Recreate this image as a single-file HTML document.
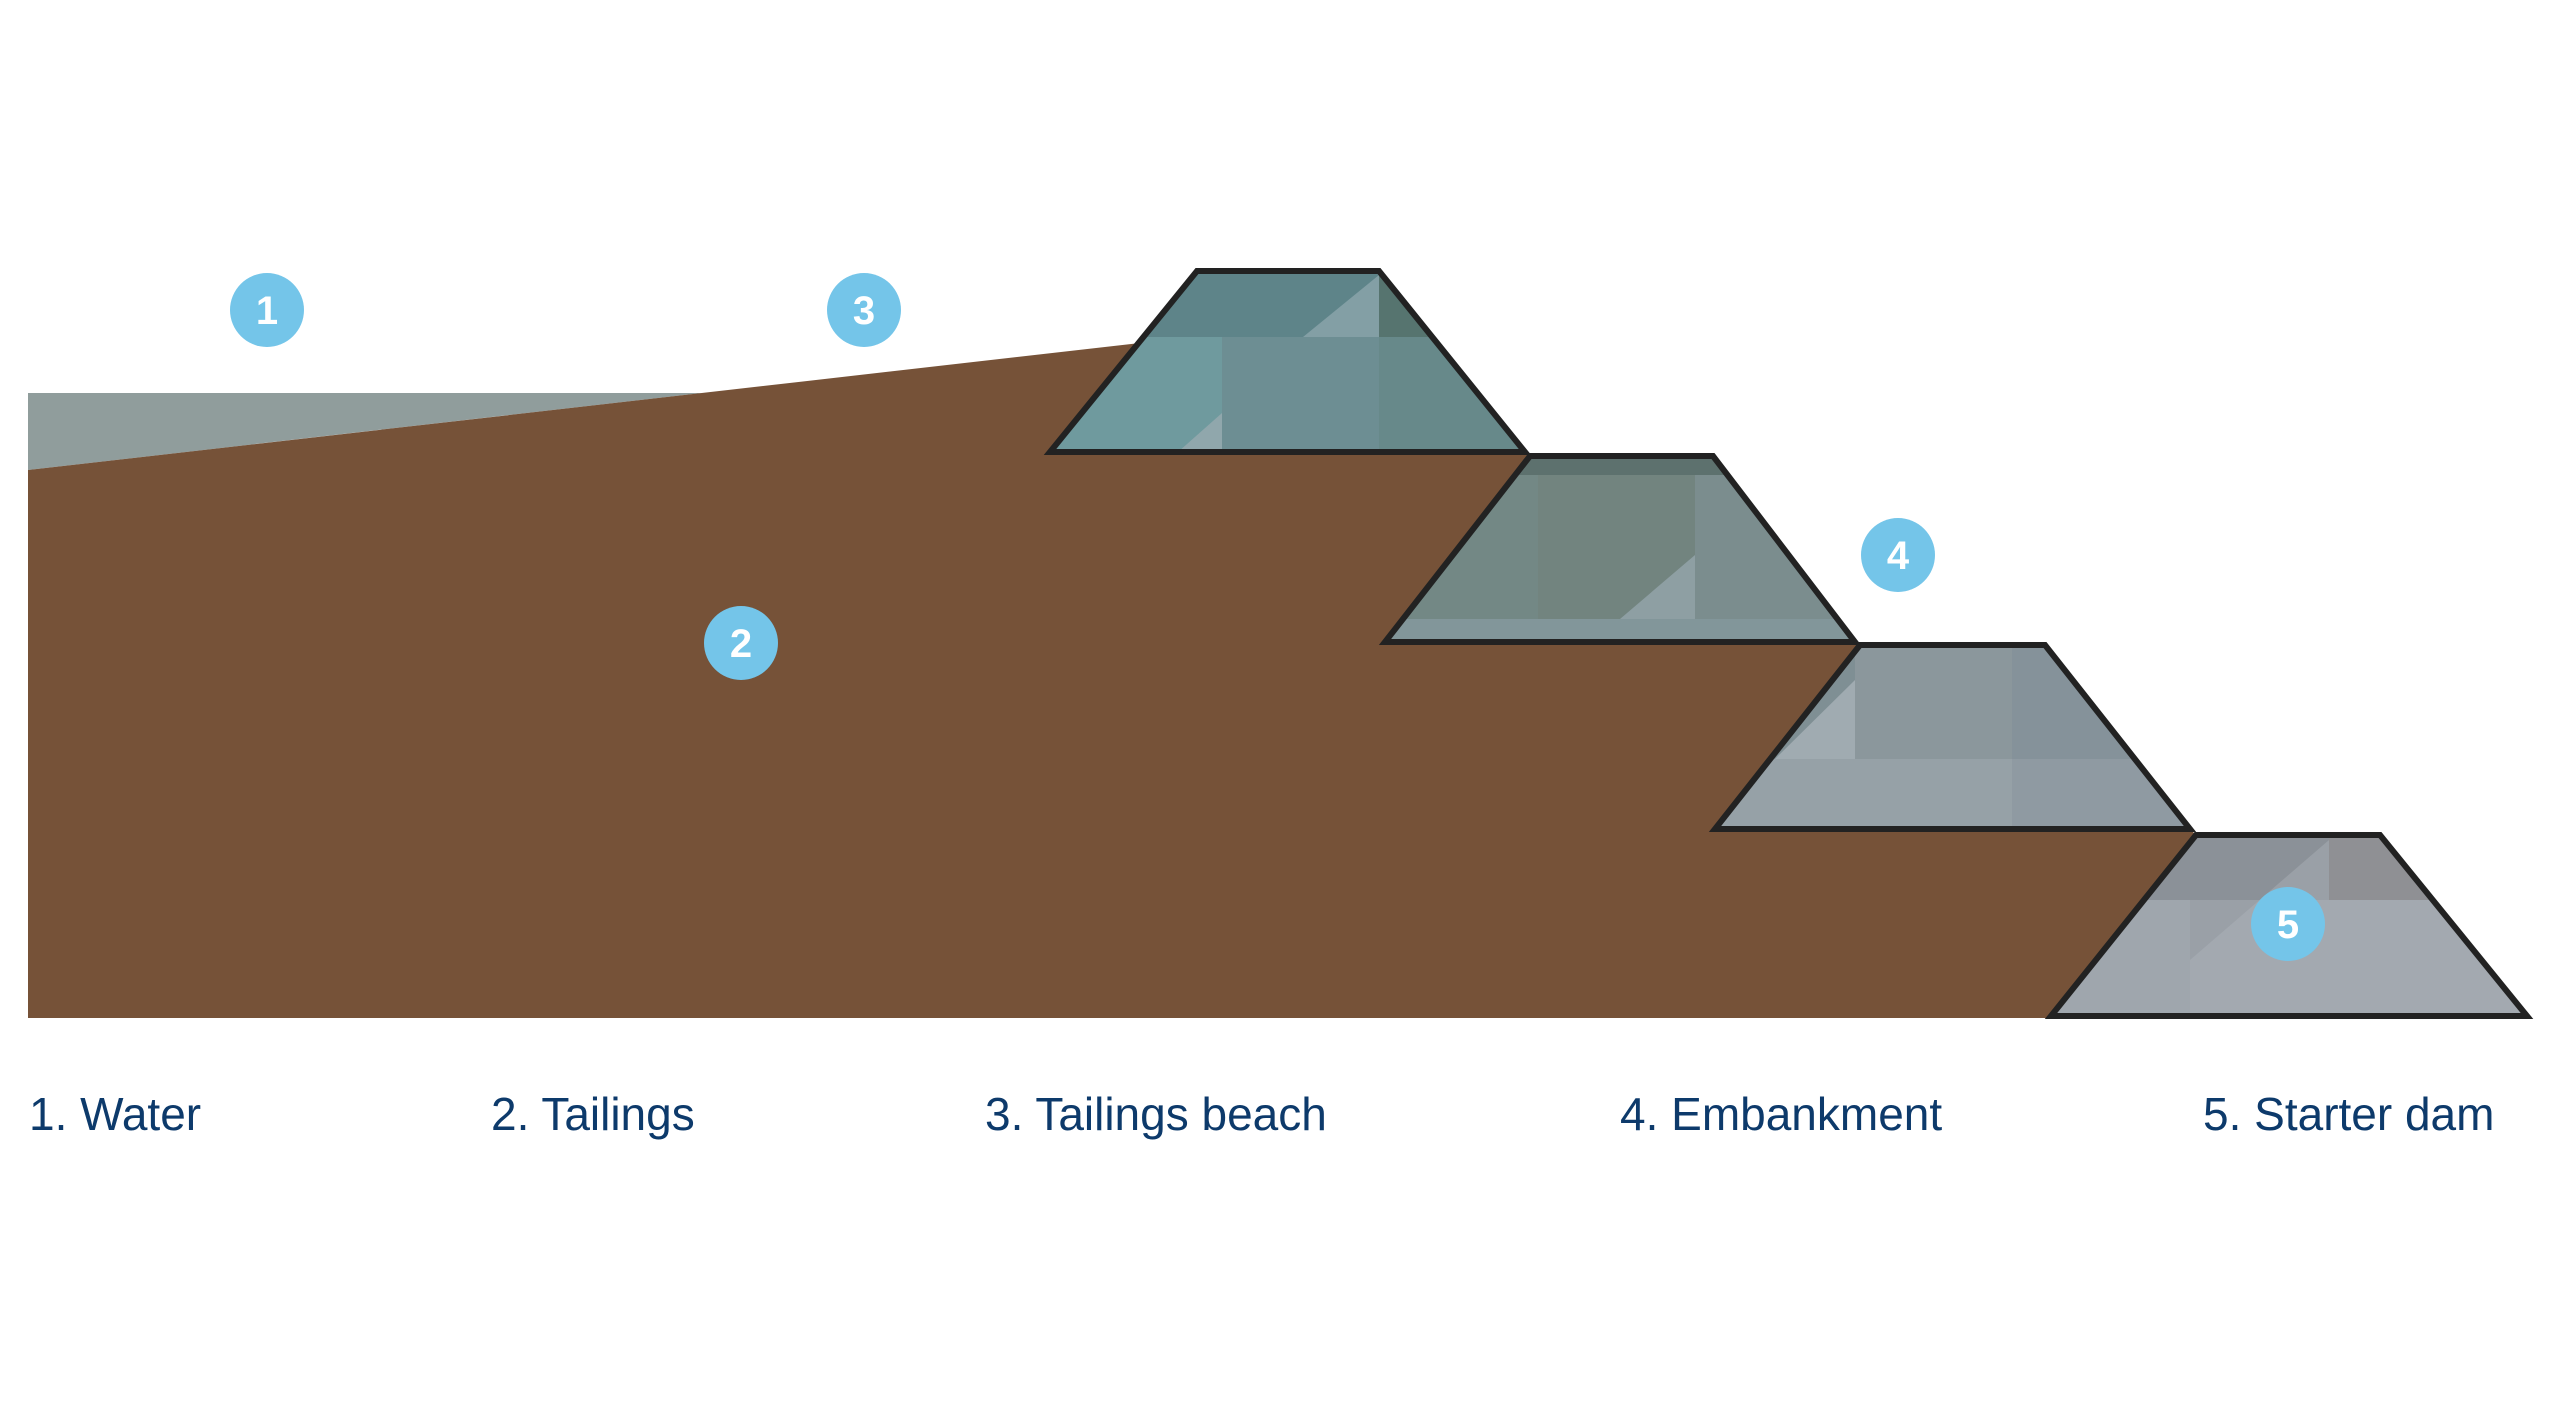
<!DOCTYPE html>
<html><head><meta charset="utf-8"><style>
html,body{margin:0;padding:0;background:#fff;}
svg{display:block;}
text{font-family:"Liberation Sans",Arial,sans-serif;}
</style></head><body>
<svg width="2560" height="1408" viewBox="0 0 2560 1408" xmlns="http://www.w3.org/2000/svg">
<defs>
<clipPath id="c1"><polygon points="1197,271 1379,271 1525,452 1050,452"/></clipPath>
<clipPath id="c2"><polygon points="1530,456 1713,456 1855,642 1385,642"/></clipPath>
<clipPath id="c3"><polygon points="1860,645 2045,645 2190,829 1715,829"/></clipPath>
<clipPath id="c4"><polygon points="2196,835 2380,835 2527,1016 2051,1016"/></clipPath>
</defs>
<!-- water -->
<polygon points="28,393 702,393 28,470" fill="#909d9c"/>
<!-- tailings -->
<polygon points="28,470 1140,343 1525,452 1855,642 2190,829 2196,835 2051,1018 28,1018" fill="#765238"/>
<!-- dam1 -->
<g clip-path="url(#c1)">
<rect x="1000" y="260" width="600" height="200" fill="#6d8e93"/>
<rect x="1000" y="337" width="222" height="130" fill="#6f9a9e"/>
<rect x="1000" y="260" width="600" height="77" fill="#5e8489"/>
<rect x="1379" y="260" width="200" height="77" fill="#56746f"/>
<rect x="1379" y="337" width="200" height="130" fill="#67898a"/>
<polygon points="1303,337 1379,275 1379,337" fill="#839fa5"/>
<polygon points="1178,452 1222,413 1222,452" fill="#90a7ac"/>
</g>
<polygon points="1197,271 1379,271 1525,452 1050,452" fill="none" stroke="#222" stroke-width="6" stroke-linejoin="miter"/>
<!-- dam2 -->
<g clip-path="url(#c2)">
<rect x="1350" y="440" width="550" height="220" fill="#72847f"/>
<rect x="1350" y="440" width="188" height="220" fill="#738885"/>
<rect x="1695" y="440" width="200" height="220" fill="#7b8d8e"/>
<rect x="1350" y="440" width="550" height="35" fill="#5d716e"/>
<rect x="1350" y="619" width="550" height="40" fill="#82969a"/>
<polygon points="1620,619 1695,555 1695,619" fill="#8e9fa3"/>
</g>
<polygon points="1530,456 1713,456 1855,642 1385,642" fill="none" stroke="#222" stroke-width="6"/>
<!-- dam3 -->
<g clip-path="url(#c3)">
<rect x="1700" y="630" width="520" height="220" fill="#8b979c"/>
<rect x="1700" y="630" width="155" height="129" fill="#7f8f94"/>
<rect x="2012" y="630" width="200" height="129" fill="#85929a"/>
<rect x="1700" y="759" width="520" height="90" fill="#96a1a7"/>
<rect x="2012" y="759" width="200" height="90" fill="#8f9aa2"/>
<polygon points="1775,759 1855,680 1855,759" fill="#a0abb1"/>
</g>
<polygon points="1860,645 2045,645 2190,829 1715,829" fill="none" stroke="#222" stroke-width="6"/>
<!-- dam4 -->
<g clip-path="url(#c4)">
<rect x="2040" y="820" width="500" height="210" fill="#a3a9b0"/>
<rect x="2040" y="820" width="500" height="80" fill="#8b9198"/>
<rect x="2329" y="820" width="200" height="80" fill="#8f9094"/>
<rect x="2040" y="900" width="150" height="130" fill="#9fa6ad"/>
<polygon points="2190,960 2329,840 2329,900 2190,900" fill="#9aa0a7"/>
</g>
<polygon points="2196,835 2380,835 2527,1016 2051,1016" fill="none" stroke="#222" stroke-width="6"/>
<!-- circles -->
<g fill="#74c5e9">
<circle cx="267" cy="310" r="37"/>
<circle cx="864" cy="310" r="37"/>
<circle cx="741" cy="643" r="37"/>
<circle cx="1898" cy="555" r="37"/>
<circle cx="2288" cy="924" r="37"/>
</g>
<g fill="#fff" font-size="40" font-weight="bold" text-anchor="middle">
<text x="267" y="324">1</text>
<text x="864" y="324">3</text>
<text x="741" y="657">2</text>
<text x="1898" y="569">4</text>
<text x="2288" y="938">5</text>
</g>
<!-- labels -->
<g fill="#0d3a6b" font-size="46">
<text x="29" y="1130">1. Water</text>
<text x="491" y="1130">2. Tailings</text>
<text x="985" y="1130">3. Tailings beach</text>
<text x="1620" y="1130">4. Embankment</text>
<text x="2203" y="1130">5. Starter dam</text>
</g>
</svg>
</body></html>
